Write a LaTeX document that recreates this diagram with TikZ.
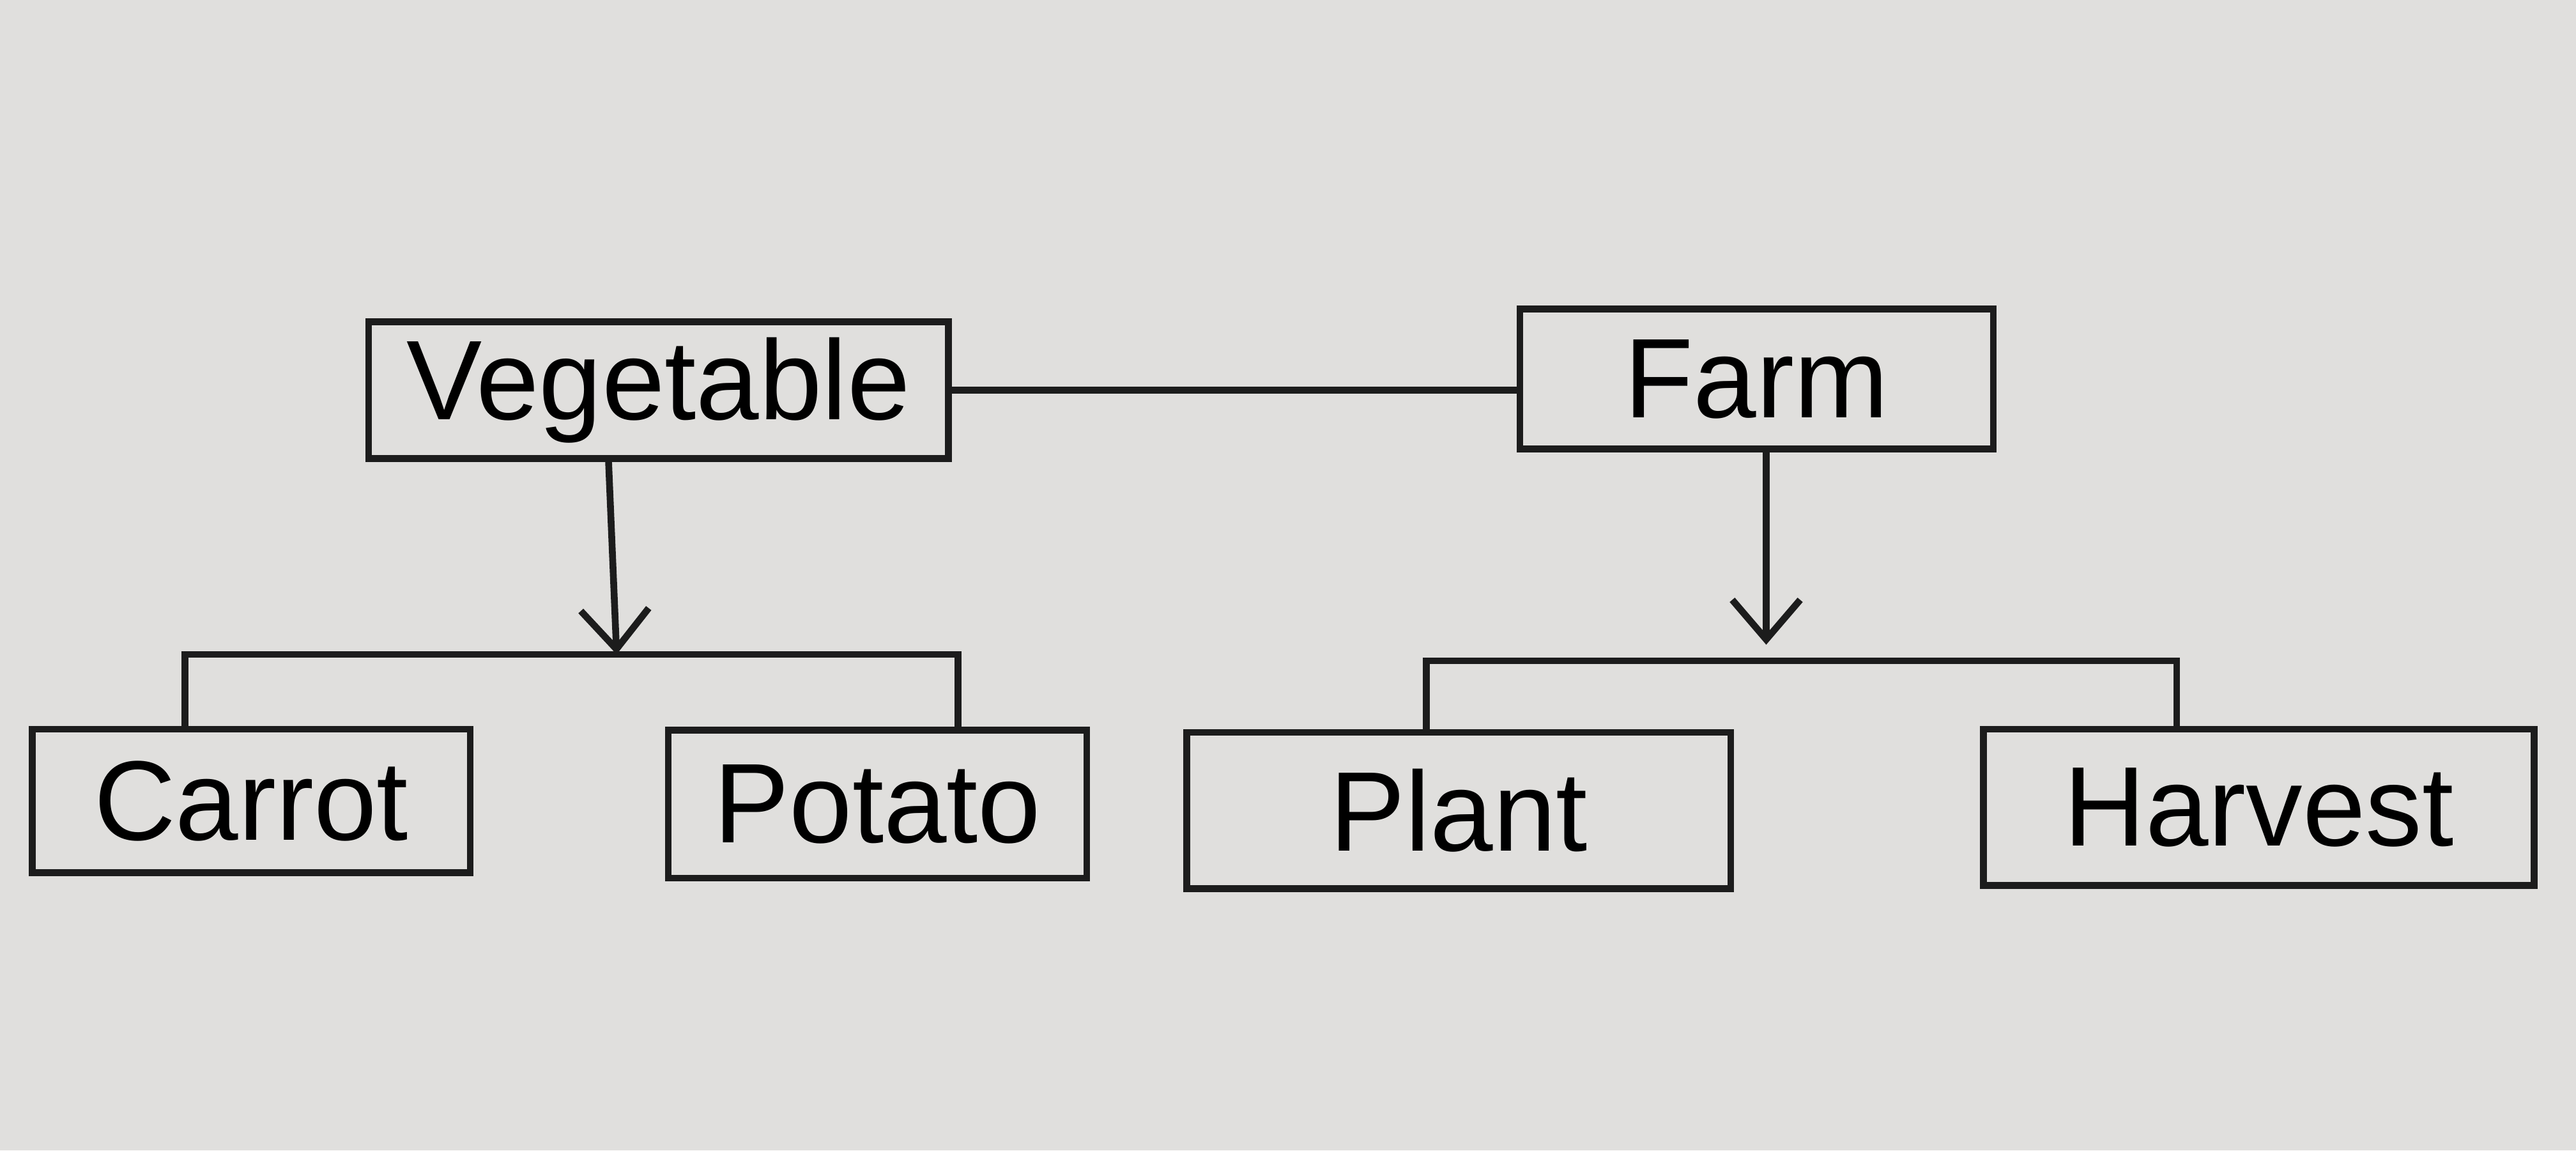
\documentclass[tikz,border=0pt]{standalone}
\usepackage{fontspec}
\setmainfont{Liberation Sans}
\usetikzlibrary{arrows.meta}
\definecolor{paper}{RGB}{224,223,221}
\definecolor{pen}{RGB}{28,28,28}
\tikzset{
  box/.style={shape=rectangle,draw=pen,line width=1.2pt,inner sep=0pt,font=\fontsize{20}{24}\selectfont},
  link/.style={draw=pen,line width=1.2pt},
  arr/.style={link,-{Straight Barb[length=7pt,width=12pt,line width=1.2pt]}}
}
\begin{document}
\begin{tikzpicture}
        \fill[paper] (0,0) rectangle (16,7.143);
        \node[box,minimum width=3.6cm,minimum height=0.85cm] (vegetable) at (4.09,4.72) {Vegetable};
        \node[box,minimum width=2.94cm,minimum height=0.87cm] (farm) at (10.91,4.79) {Farm};
        \node[box,minimum width=2.72cm,minimum height=0.89cm] (carrot) at (1.56,2.17) {Carrot};
        \node[box,minimum width=2.6cm,minimum height=0.92cm] (potato) at (5.45,2.15) {Potato};
        \node[box,minimum width=3.38cm,minimum height=0.97cm] (plant) at (9.06,2.11) {Plant};
        \node[box,minimum width=3.42cm,minimum height=0.97cm] (harvest) at (14.03,2.13) {Harvest};
        \coordinate (vegbar) at (3.83,3.08);
        \coordinate (farmbar) at (10.97,3.04);

        \path[link]
        (vegetable.east) edge (vegetable.east -| farm.west)
        ;

        % brackets over the children
        \draw[link] ([xshift=-0.41cm]carrot.north) |- (vegbar) -| ([xshift=0.5cm]potato.north);
        \draw[link] ([xshift=-0.2cm]plant.north) |- (farmbar) -| ([xshift=-0.51cm]harvest.north);

        \draw[arr] ([xshift=-0.31cm]vegetable.south) -- (vegbar);
        \draw[arr] ([xshift=0.06cm]farm.south) -- ([yshift=0.1cm]farmbar);
\end{tikzpicture}
\end{document}
